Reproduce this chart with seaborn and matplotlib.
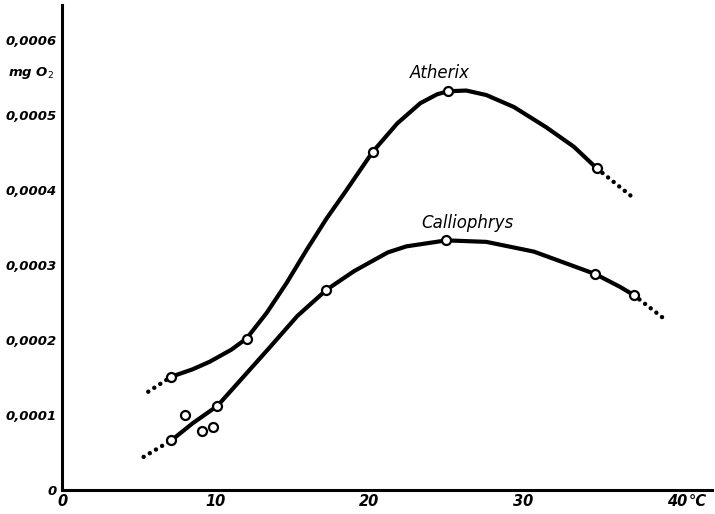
import seaborn as sns
import matplotlib.pyplot as plt
import pandas as pd

# curves (temperature in C, mg O2 in units of 1e-4)
atherix_x = [7.1, 8.5, 9.6, 11.0, 12.0, 13.3, 14.6, 15.9, 17.2, 18.5, 20.2,
             21.8, 23.3, 24.4, 25.1, 26.3, 27.6, 29.4, 31.5, 33.3, 34.8]
atherix_y = [1.51, 1.61, 1.71, 1.87, 2.02, 2.36, 2.76, 3.20, 3.62, 4.00, 4.51,
             4.89, 5.16, 5.28, 5.32, 5.33, 5.27, 5.11, 4.84, 4.58, 4.29]
callio_x = [7.1, 8.5, 10.1, 11.8, 13.5, 15.3, 17.2, 19.0, 21.2, 22.4, 25.0,
            27.6, 30.7, 34.7, 36.3, 37.2]
callio_y = [0.66, 0.89, 1.12, 1.51, 1.90, 2.32, 2.67, 2.92, 3.17, 3.25, 3.33,
            3.31, 3.18, 2.88, 2.71, 2.60]

# measured points (open circles)
atherix_pts_x = [7.1, 12.0, 20.2, 25.1, 34.8]
atherix_pts_y = [1.51, 2.02, 4.51, 5.32, 4.29]
callio_pts_x = [7.1, 10.1, 17.2, 25.0, 34.7, 37.2]
callio_pts_y = [0.66, 1.12, 2.67, 3.33, 2.88, 2.60]
extra_x = [8.0, 9.1, 9.8]
extra_y = [1.00, 0.79, 0.84]

# dotted extrapolations
ath_left_x, ath_left_y = [5.6, 7.1], [1.31, 1.51]
ath_right_x, ath_right_y = [34.8, 37.1], [4.29, 3.91]
cal_left_x, cal_left_y = [5.3, 7.1], [0.44, 0.66]
cal_right_x, cal_right_y = [37.2, 39.2], [2.60, 2.28]

x_ticks = [0, 10, 20, 30, 40]
x_ticklabels = ["0", "10", "20", "30", "40"]
y_ticks = [0, 1, 2, 3, 4, 5, 6]
y_ticklabels = ["0", "0,0001", "0,0002", "0,0003", "0,0004", "0,0005", "0,0006"]

sns.set_style("white")
plt.rcParams["font.family"] = ["DejaVu Sans"]
plt.rcParams["text.color"] = "black"

scale = 1e-4
fig = plt.figure(figsize=(7.15, 5.14), dpi=100)
ax = fig.add_axes([0.087, 0.047, 0.909, 0.943])

def df(xs, ys):
    return pd.DataFrame({"t": xs, "v": [y * scale for y in ys]})

for xs, ys in [(atherix_x, atherix_y), (callio_x, callio_y)]:
    sns.lineplot(data=df(xs, ys), x="t", y="v", ax=ax, color="black",
                 linewidth=3.0, sort=False, solid_capstyle="round",
                 solid_joinstyle="round")

for xs, ys in [(ath_left_x, ath_left_y), (ath_right_x, ath_right_y),
               (cal_left_x, cal_left_y), (cal_right_x, cal_right_y)]:
    sns.lineplot(data=df(xs, ys), x="t", y="v", ax=ax, color="black",
                 linewidth=3.2, linestyle=(0, (0.01, 1.6)),
                 dash_capstyle="round")

pts = pd.concat([df(atherix_pts_x, atherix_pts_y),
                 df(callio_pts_x, callio_pts_y),
                 df(extra_x, extra_y)])
sns.scatterplot(data=pts, x="t", y="v", ax=ax, s=42, color="white",
                edgecolor="black", linewidth=1.6, zorder=5)

tick_font = dict(fontsize=9.5, fontweight="bold", style="italic", color="black")
x_font = dict(tick_font, fontsize=10.5)
ax.set_xlim(0, 42.3)
ax.set_ylim(0, 6.47 * scale)
ax.set_xticks(x_ticks)
ax.set_xticklabels(x_ticklabels, **x_font)
ax.set_yticks([y * scale for y in y_ticks])
ax.set_yticklabels(y_ticklabels, **tick_font)
ax.tick_params(direction="in", length=8, width=2, color="black", pad=4)
ax.tick_params(axis="x", pad=3)
ax.set_xlabel("")
ax.set_ylabel("")

for side in ["top", "right"]:
    ax.spines[side].set_visible(False)
for side in ["left", "bottom"]:
    ax.spines[side].set_linewidth(2.2)
    ax.spines[side].set_color("black")

ax.text(24.6, 5.57 * scale, "Atherix", fontsize=12, style="italic",
        ha="center", va="center")
ax.text(26.35, 3.56 * scale, "Calliophrys", fontsize=12, style="italic",
        ha="center", va="center")
ax.text(-0.5, 5.57 * scale, "mg O$_2$", ha="right", va="center",
        clip_on=False, **tick_font)
ax.text(40.8, -0.009, "°C", transform=ax.get_xaxis_transform(),
        ha="left", va="top", **x_font)

fig.savefig("out.png", dpi=100)
